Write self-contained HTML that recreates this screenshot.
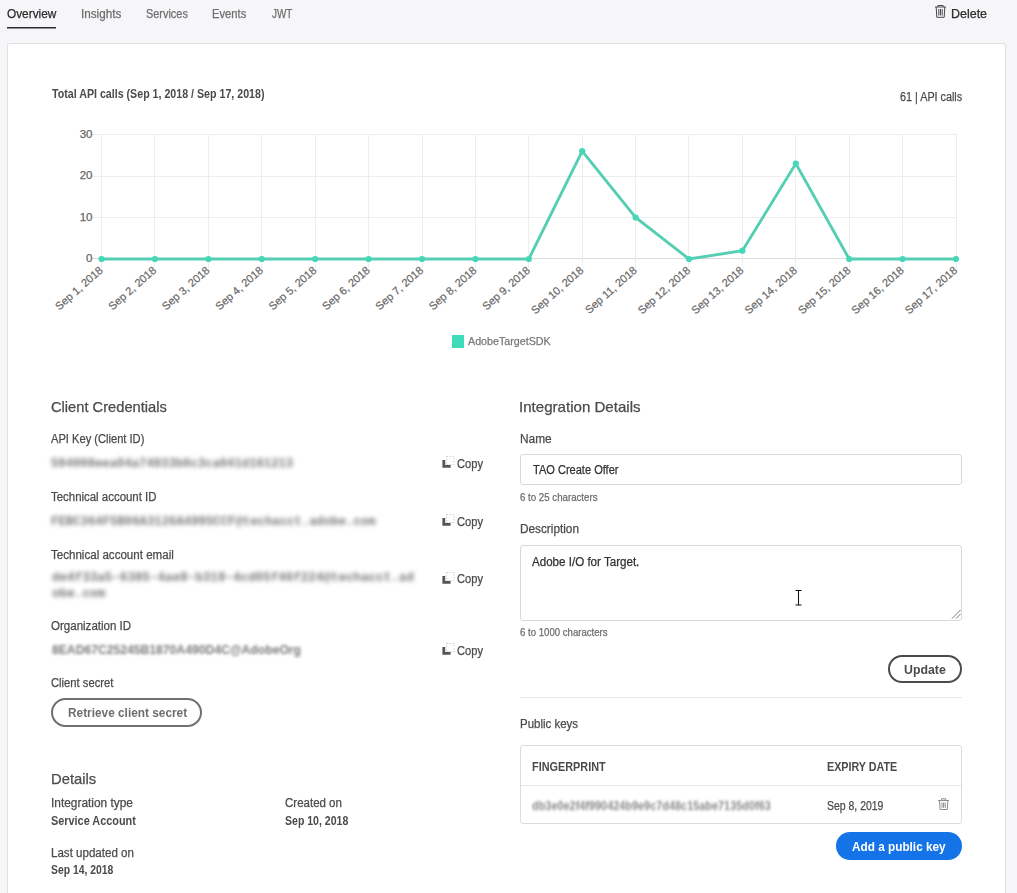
<!DOCTYPE html>
<html><head><meta charset="utf-8"><title>Overview</title>
<style>
html,body{margin:0;padding:0;width:1017px;height:893px;overflow:hidden;background:#f6f5f8;font-family:"Liberation Sans",sans-serif;}
.t{position:absolute;white-space:nowrap;transform-origin:0 0;}
.card{position:absolute;left:7px;top:43px;width:997px;height:900px;background:#fff;border:1px solid #e1e0e3;border-radius:3px;}
</style></head><body>
<svg style="position:absolute;left:0;top:0" width="70" height="40"><rect x="7" y="27" width="49" height="1.5" fill="#2c2c2c"/></svg>
<svg style="position:absolute;left:934px;top:4px" width="14" height="15"><path d="M1 3 H12 M3.9 3 V1.5 H9.1 V3 M2.2 3 L2.8 13.3 H10.2 L10.8 3 M4.8 5 V11.5 M6.5 5 V11.5 M8.2 5 V11.5" stroke="#4a4a4a" stroke-width="1" fill="none"/></svg>
<div class="card"></div>
<svg style="position:absolute;left:0;top:0" width="1017" height="893" font-family="Liberation Sans, sans-serif"><line x1="92" y1="217.5" x2="956.5" y2="217.5" stroke="#ededed" stroke-width="1"/><line x1="92" y1="176.5" x2="956.5" y2="176.5" stroke="#ededed" stroke-width="1"/><line x1="92" y1="134.5" x2="956.5" y2="134.5" stroke="#ededed" stroke-width="1"/><line x1="92" y1="258.5" x2="956.5" y2="258.5" stroke="#dadada" stroke-width="1"/><line x1="101.5" y1="134" x2="101.5" y2="268" stroke="#ededed" stroke-width="1"/><line x1="154.5" y1="134" x2="154.5" y2="268" stroke="#ededed" stroke-width="1"/><line x1="208.5" y1="134" x2="208.5" y2="268" stroke="#ededed" stroke-width="1"/><line x1="261.5" y1="134" x2="261.5" y2="268" stroke="#ededed" stroke-width="1"/><line x1="315.5" y1="134" x2="315.5" y2="268" stroke="#ededed" stroke-width="1"/><line x1="368.5" y1="134" x2="368.5" y2="268" stroke="#ededed" stroke-width="1"/><line x1="422.5" y1="134" x2="422.5" y2="268" stroke="#ededed" stroke-width="1"/><line x1="475.5" y1="134" x2="475.5" y2="268" stroke="#ededed" stroke-width="1"/><line x1="528.5" y1="134" x2="528.5" y2="268" stroke="#ededed" stroke-width="1"/><line x1="582.5" y1="134" x2="582.5" y2="268" stroke="#ededed" stroke-width="1"/><line x1="635.5" y1="134" x2="635.5" y2="268" stroke="#ededed" stroke-width="1"/><line x1="688.5" y1="134" x2="688.5" y2="268" stroke="#ededed" stroke-width="1"/><line x1="742.5" y1="134" x2="742.5" y2="268" stroke="#ededed" stroke-width="1"/><line x1="795.5" y1="134" x2="795.5" y2="268" stroke="#ededed" stroke-width="1"/><line x1="849.5" y1="134" x2="849.5" y2="268" stroke="#ededed" stroke-width="1"/><line x1="902.5" y1="134" x2="902.5" y2="268" stroke="#ededed" stroke-width="1"/><line x1="956.5" y1="134" x2="956.5" y2="268" stroke="#ededed" stroke-width="1"/><text x="92.5" y="262.3" text-anchor="end" font-size="11.5" fill="#666" stroke="#666" stroke-width="0.25">0</text><text x="92.5" y="220.8" text-anchor="end" font-size="11.5" fill="#666" stroke="#666" stroke-width="0.25">10</text><text x="92.5" y="179.4" text-anchor="end" font-size="11.5" fill="#666" stroke="#666" stroke-width="0.25">20</text><text x="92.5" y="137.9" text-anchor="end" font-size="11.5" fill="#666" stroke="#666" stroke-width="0.25">30</text><polyline points="101.6,259.0 155.0,259.0 208.4,259.0 261.8,259.0 315.2,259.0 368.6,259.0 422.0,259.0 475.4,259.0 528.8,259.0 582.2,151.2 635.6,217.5 689.0,259.0 742.4,250.7 795.8,163.6 849.2,259.0 902.6,259.0 956.0,259.0" fill="none" stroke="#56ceb3" stroke-width="2.9" stroke-linejoin="miter"/><circle cx="101.6" cy="259.0" r="3.1" fill="#45d8b8"/><circle cx="155.0" cy="259.0" r="3.1" fill="#45d8b8"/><circle cx="208.4" cy="259.0" r="3.1" fill="#45d8b8"/><circle cx="261.8" cy="259.0" r="3.1" fill="#45d8b8"/><circle cx="315.2" cy="259.0" r="3.1" fill="#45d8b8"/><circle cx="368.6" cy="259.0" r="3.1" fill="#45d8b8"/><circle cx="422.0" cy="259.0" r="3.1" fill="#45d8b8"/><circle cx="475.4" cy="259.0" r="3.1" fill="#45d8b8"/><circle cx="528.8" cy="259.0" r="3.1" fill="#45d8b8"/><circle cx="582.2" cy="151.2" r="3.1" fill="#45d8b8"/><circle cx="635.6" cy="217.5" r="3.1" fill="#45d8b8"/><circle cx="689.0" cy="259.0" r="3.1" fill="#45d8b8"/><circle cx="742.4" cy="250.7" r="3.1" fill="#45d8b8"/><circle cx="795.8" cy="163.6" r="3.1" fill="#45d8b8"/><circle cx="849.2" cy="259.0" r="3.1" fill="#45d8b8"/><circle cx="902.6" cy="259.0" r="3.1" fill="#45d8b8"/><circle cx="956.0" cy="259.0" r="3.1" fill="#45d8b8"/><text transform="translate(101.1,268.5) rotate(-41.5)" text-anchor="end" font-size="11" fill="#666" stroke="#666" stroke-width="0.2" dy="3.8">Sep 1, 2018</text><text transform="translate(154.5,268.5) rotate(-41.5)" text-anchor="end" font-size="11" fill="#666" stroke="#666" stroke-width="0.2" dy="3.8">Sep 2, 2018</text><text transform="translate(207.9,268.5) rotate(-41.5)" text-anchor="end" font-size="11" fill="#666" stroke="#666" stroke-width="0.2" dy="3.8">Sep 3, 2018</text><text transform="translate(261.3,268.5) rotate(-41.5)" text-anchor="end" font-size="11" fill="#666" stroke="#666" stroke-width="0.2" dy="3.8">Sep 4, 2018</text><text transform="translate(314.7,268.5) rotate(-41.5)" text-anchor="end" font-size="11" fill="#666" stroke="#666" stroke-width="0.2" dy="3.8">Sep 5, 2018</text><text transform="translate(368.1,268.5) rotate(-41.5)" text-anchor="end" font-size="11" fill="#666" stroke="#666" stroke-width="0.2" dy="3.8">Sep 6, 2018</text><text transform="translate(421.5,268.5) rotate(-41.5)" text-anchor="end" font-size="11" fill="#666" stroke="#666" stroke-width="0.2" dy="3.8">Sep 7, 2018</text><text transform="translate(474.9,268.5) rotate(-41.5)" text-anchor="end" font-size="11" fill="#666" stroke="#666" stroke-width="0.2" dy="3.8">Sep 8, 2018</text><text transform="translate(528.3,268.5) rotate(-41.5)" text-anchor="end" font-size="11" fill="#666" stroke="#666" stroke-width="0.2" dy="3.8">Sep 9, 2018</text><text transform="translate(581.7,268.5) rotate(-41.5)" text-anchor="end" font-size="11" fill="#666" stroke="#666" stroke-width="0.2" dy="3.8">Sep 10, 2018</text><text transform="translate(635.1,268.5) rotate(-41.5)" text-anchor="end" font-size="11" fill="#666" stroke="#666" stroke-width="0.2" dy="3.8">Sep 11, 2018</text><text transform="translate(688.5,268.5) rotate(-41.5)" text-anchor="end" font-size="11" fill="#666" stroke="#666" stroke-width="0.2" dy="3.8">Sep 12, 2018</text><text transform="translate(741.9,268.5) rotate(-41.5)" text-anchor="end" font-size="11" fill="#666" stroke="#666" stroke-width="0.2" dy="3.8">Sep 13, 2018</text><text transform="translate(795.3,268.5) rotate(-41.5)" text-anchor="end" font-size="11" fill="#666" stroke="#666" stroke-width="0.2" dy="3.8">Sep 14, 2018</text><text transform="translate(848.7,268.5) rotate(-41.5)" text-anchor="end" font-size="11" fill="#666" stroke="#666" stroke-width="0.2" dy="3.8">Sep 15, 2018</text><text transform="translate(902.1,268.5) rotate(-41.5)" text-anchor="end" font-size="11" fill="#666" stroke="#666" stroke-width="0.2" dy="3.8">Sep 16, 2018</text><text transform="translate(955.5,268.5) rotate(-41.5)" text-anchor="end" font-size="11" fill="#666" stroke="#666" stroke-width="0.2" dy="3.8">Sep 17, 2018</text><rect x="452" y="335" width="12" height="13" fill="#3ddbb7"/></svg>
<div class="t" style="left:6.71px;top:8.30px;font-size:12px;line-height:12px;font-family:'Liberation Sans', sans-serif;font-weight:400;color:#2c2c2c;transform:scaleX(0.9858);-webkit-text-stroke:0.25px currentColor;">Overview</div>
<div class="t" style="left:80.53px;top:8.30px;font-size:12px;line-height:12px;font-family:'Liberation Sans', sans-serif;font-weight:400;color:#6e6e6e;transform:scaleX(0.9749);-webkit-text-stroke:0.25px currentColor;">Insights</div>
<div class="t" style="left:145.55px;top:8.30px;font-size:12px;line-height:12px;font-family:'Liberation Sans', sans-serif;font-weight:400;color:#6e6e6e;transform:scaleX(0.9091);-webkit-text-stroke:0.25px currentColor;">Services</div>
<div class="t" style="left:212.07px;top:8.30px;font-size:12px;line-height:12px;font-family:'Liberation Sans', sans-serif;font-weight:400;color:#6e6e6e;transform:scaleX(0.9348);-webkit-text-stroke:0.25px currentColor;">Events</div>
<div class="t" style="left:271.83px;top:8.30px;font-size:12px;line-height:12px;font-family:'Liberation Sans', sans-serif;font-weight:400;color:#6e6e6e;transform:scaleX(0.8264);-webkit-text-stroke:0.25px currentColor;">JWT</div>
<div class="t" style="left:950.50px;top:7.97px;font-size:12.5px;line-height:12.5px;font-family:'Liberation Sans', sans-serif;font-weight:400;color:#2c2c2c;transform:scaleX(0.9971);-webkit-text-stroke:0.25px currentColor;">Delete</div>
<div class="t" style="left:51.72px;top:87.15px;font-size:13px;line-height:13px;font-family:'Liberation Sans', sans-serif;font-weight:700;color:#4b4b4b;transform:scaleX(0.8191);">Total API calls (Sep 1, 2018 / Sep 17, 2018)</div>
<div class="t" style="left:900.36px;top:91.40px;font-size:12px;line-height:12px;font-family:'Liberation Sans', sans-serif;font-weight:400;color:#4b4b4b;transform:scaleX(0.8988);-webkit-text-stroke:0.25px currentColor;">61 | API calls</div>
<div class="t" style="left:468.40px;top:335.63px;font-size:11.5px;line-height:11.5px;font-family:'Liberation Sans', sans-serif;font-weight:400;color:#777;transform:scaleX(0.9312);-webkit-text-stroke:0.25px currentColor;">AdobeTargetSDK</div>
<div class="t" style="left:50.59px;top:399.98px;font-size:14.5px;line-height:14.5px;font-family:'Liberation Sans', sans-serif;font-weight:400;color:#4b4b4b;transform:scaleX(1.0124);-webkit-text-stroke:0.25px currentColor;">Client Credentials</div>
<div class="t" style="left:519.35px;top:399.98px;font-size:14.5px;line-height:14.5px;font-family:'Liberation Sans', sans-serif;font-weight:400;color:#4b4b4b;transform:scaleX(1.0400);-webkit-text-stroke:0.25px currentColor;">Integration Details</div>
<div class="t" style="left:51.22px;top:771.45px;font-size:15px;line-height:15px;font-family:'Liberation Sans', sans-serif;font-weight:400;color:#4b4b4b;transform:scaleX(0.9864);-webkit-text-stroke:0.25px currentColor;">Details</div>
<div class="t" style="left:51.30px;top:433.10px;font-size:12px;line-height:12px;font-family:'Liberation Sans', sans-serif;font-weight:400;color:#4b4b4b;transform:scaleX(0.9270);-webkit-text-stroke:0.25px currentColor;">API Key (Client ID)</div>
<div class="t" style="left:51.01px;top:491.40px;font-size:12px;line-height:12px;font-family:'Liberation Sans', sans-serif;font-weight:400;color:#4b4b4b;transform:scaleX(0.9527);-webkit-text-stroke:0.25px currentColor;">Technical account ID</div>
<div class="t" style="left:51.01px;top:549.20px;font-size:12px;line-height:12px;font-family:'Liberation Sans', sans-serif;font-weight:400;color:#4b4b4b;transform:scaleX(0.9636);-webkit-text-stroke:0.25px currentColor;">Technical account email</div>
<div class="t" style="left:51.32px;top:620.40px;font-size:12px;line-height:12px;font-family:'Liberation Sans', sans-serif;font-weight:400;color:#4b4b4b;transform:scaleX(0.9611);-webkit-text-stroke:0.25px currentColor;">Organization ID</div>
<div class="t" style="left:51.14px;top:677.20px;font-size:12px;line-height:12px;font-family:'Liberation Sans', sans-serif;font-weight:400;color:#4b4b4b;transform:scaleX(0.9349);-webkit-text-stroke:0.25px currentColor;">Client secret</div>
<div class="t" style="left:519.71px;top:433.10px;font-size:12px;line-height:12px;font-family:'Liberation Sans', sans-serif;font-weight:400;color:#4b4b4b;transform:scaleX(0.9902);-webkit-text-stroke:0.25px currentColor;">Name</div>
<div class="t" style="left:519.52px;top:523.30px;font-size:12px;line-height:12px;font-family:'Liberation Sans', sans-serif;font-weight:400;color:#4b4b4b;transform:scaleX(0.9828);-webkit-text-stroke:0.25px currentColor;">Description</div>
<div class="t" style="left:519.64px;top:717.60px;font-size:12px;line-height:12px;font-family:'Liberation Sans', sans-serif;font-weight:400;color:#4b4b4b;transform:scaleX(0.9562);-webkit-text-stroke:0.25px currentColor;">Public keys</div>
<div class="t" style="left:50.51px;top:797.10px;font-size:12px;line-height:12px;font-family:'Liberation Sans', sans-serif;font-weight:400;color:#4b4b4b;transform:scaleX(0.9901);-webkit-text-stroke:0.25px currentColor;">Integration type</div>
<div class="t" style="left:284.82px;top:797.10px;font-size:12px;line-height:12px;font-family:'Liberation Sans', sans-serif;font-weight:400;color:#4b4b4b;transform:scaleX(0.9586);-webkit-text-stroke:0.25px currentColor;">Created on</div>
<div class="t" style="left:50.64px;top:847.40px;font-size:12px;line-height:12px;font-family:'Liberation Sans', sans-serif;font-weight:400;color:#4b4b4b;transform:scaleX(0.9632);-webkit-text-stroke:0.25px currentColor;">Last updated on</div>
<div class="t" style="left:51.24px;top:814.90px;font-size:12px;line-height:12px;font-family:'Liberation Sans', sans-serif;font-weight:700;color:#4b4b4b;transform:scaleX(0.9066);">Service Account</div>
<div class="t" style="left:285.05px;top:814.90px;font-size:12px;line-height:12px;font-family:'Liberation Sans', sans-serif;font-weight:700;color:#4b4b4b;transform:scaleX(0.8780);">Sep 10, 2018</div>
<div class="t" style="left:51.25px;top:864.40px;font-size:12px;line-height:12px;font-family:'Liberation Sans', sans-serif;font-weight:700;color:#4b4b4b;transform:scaleX(0.8654);">Sep 14, 2018</div>
<div class="t" style="left:457.34px;top:457.60px;font-size:12px;line-height:12px;font-family:'Liberation Sans', sans-serif;font-weight:400;color:#4b4b4b;transform:scaleX(0.9270);-webkit-text-stroke:0.25px currentColor;">Copy</div>
<svg style="position:absolute;left:440px;top:454.0px" width="18" height="16"><rect x="6.5" y="2.5" width="7.5" height="8" fill="none" stroke="#cfcfcf" stroke-width="1" stroke-dasharray="1.5 1.5"/><path d="M2.4 6 H5.2 V11 H10.6 V13.8 H2.4 Z" fill="#555"/></svg>
<div class="t" style="left:457.34px;top:515.60px;font-size:12px;line-height:12px;font-family:'Liberation Sans', sans-serif;font-weight:400;color:#4b4b4b;transform:scaleX(0.9270);-webkit-text-stroke:0.25px currentColor;">Copy</div>
<svg style="position:absolute;left:440px;top:512.0px" width="18" height="16"><rect x="6.5" y="2.5" width="7.5" height="8" fill="none" stroke="#cfcfcf" stroke-width="1" stroke-dasharray="1.5 1.5"/><path d="M2.4 6 H5.2 V11 H10.6 V13.8 H2.4 Z" fill="#555"/></svg>
<div class="t" style="left:457.34px;top:573.30px;font-size:12px;line-height:12px;font-family:'Liberation Sans', sans-serif;font-weight:400;color:#4b4b4b;transform:scaleX(0.9270);-webkit-text-stroke:0.25px currentColor;">Copy</div>
<svg style="position:absolute;left:440px;top:569.7px" width="18" height="16"><rect x="6.5" y="2.5" width="7.5" height="8" fill="none" stroke="#cfcfcf" stroke-width="1" stroke-dasharray="1.5 1.5"/><path d="M2.4 6 H5.2 V11 H10.6 V13.8 H2.4 Z" fill="#555"/></svg>
<div class="t" style="left:457.34px;top:644.60px;font-size:12px;line-height:12px;font-family:'Liberation Sans', sans-serif;font-weight:400;color:#4b4b4b;transform:scaleX(0.9270);-webkit-text-stroke:0.25px currentColor;">Copy</div>
<svg style="position:absolute;left:440px;top:641.0px" width="18" height="16"><rect x="6.5" y="2.5" width="7.5" height="8" fill="none" stroke="#cfcfcf" stroke-width="1" stroke-dasharray="1.5 1.5"/><path d="M2.4 6 H5.2 V11 H10.6 V13.8 H2.4 Z" fill="#555"/></svg>
<div class="t" style="left:520.22px;top:493.00px;font-size:10px;line-height:10px;font-family:'Liberation Sans', sans-serif;font-weight:400;color:#6e6e6e;transform:scaleX(0.9684);-webkit-text-stroke:0.25px currentColor;">6 to 25 characters</div>
<div class="t" style="left:520.02px;top:627.80px;font-size:10px;line-height:10px;font-family:'Liberation Sans', sans-serif;font-weight:400;color:#6e6e6e;transform:scaleX(0.9612);-webkit-text-stroke:0.25px currentColor;">6 to 1000 characters</div>
<div style="position:absolute;left:520px;top:454px;width:440px;height:29px;border:1px solid #d8d8d8;border-radius:3px;background:#fff"></div>
<div class="t" style="left:532.52px;top:463.80px;font-size:12px;line-height:12px;font-family:'Liberation Sans', sans-serif;font-weight:400;color:#323232;transform:scaleX(0.9199);-webkit-text-stroke:0.25px currentColor;">TAO Create Offer</div>
<div style="position:absolute;left:520px;top:545px;width:440px;height:74px;border:1px solid #d8d8d8;border-radius:3px;background:#fff"></div>
<div class="t" style="left:532.20px;top:555.60px;font-size:12px;line-height:12px;font-family:'Liberation Sans', sans-serif;font-weight:400;color:#323232;transform:scaleX(0.9655);-webkit-text-stroke:0.25px currentColor;">Adobe I/O for Target.</div>
<svg style="position:absolute;left:950px;top:608px" width="12" height="12"><path d="M10.5 2 L2 10.5 M10.5 6 L6 10.5" stroke="#777" stroke-width="1"/></svg>
<svg style="position:absolute;left:794px;top:589px" width="10" height="18"><path d="M1.5 1.5 H7.5 M4.5 1.5 V16 M1.5 16 H7.5" stroke="#111" stroke-width="1.05" fill="none"/></svg>
<div style="position:absolute;left:51px;top:698px;width:147px;height:25px;border:2px solid #707070;border-radius:15px"></div>
<div class="t" style="left:67.54px;top:706.88px;font-size:12.5px;line-height:12.5px;font-family:'Liberation Sans', sans-serif;font-weight:700;color:#6e6e6e;transform:scaleX(0.9471);">Retrieve client secret</div>
<div style="position:absolute;left:888px;top:655px;width:70px;height:24px;border:2px solid #4b4b4b;border-radius:15px"></div>
<div class="t" style="left:904.31px;top:663.98px;font-size:12.5px;line-height:12.5px;font-family:'Liberation Sans', sans-serif;font-weight:700;color:#4b4b4b;transform:scaleX(0.9854);">Update</div>
<div style="position:absolute;left:836px;top:832px;width:126px;height:28px;background:#1473e6;border-radius:15px"></div>
<div class="t" style="left:852.42px;top:840.58px;font-size:12.5px;line-height:12.5px;font-family:'Liberation Sans', sans-serif;font-weight:700;color:#ffffff;transform:scaleX(0.9424);">Add a public key</div>
<div style="position:absolute;left:520px;top:697px;width:442px;height:1px;background:#e6e6e6"></div>
<div style="position:absolute;left:520px;top:745px;width:440px;height:77px;border:1px solid #dcdcdc;border-radius:3px"></div>
<div style="position:absolute;left:521px;top:785px;width:440px;height:1px;background:#e6e6e6"></div>
<div class="t" style="left:532.08px;top:761.40px;font-size:12px;line-height:12px;font-family:'Liberation Sans', sans-serif;font-weight:700;color:#4b4b4b;transform:scaleX(0.9055);">FINGERPRINT</div>
<div class="t" style="left:826.68px;top:761.40px;font-size:12px;line-height:12px;font-family:'Liberation Sans', sans-serif;font-weight:700;color:#4b4b4b;transform:scaleX(0.8951);">EXPIRY DATE</div>
<div class="t" style="left:826.96px;top:800.40px;font-size:12px;line-height:12px;font-family:'Liberation Sans', sans-serif;font-weight:400;color:#4b4b4b;transform:scaleX(0.8711);-webkit-text-stroke:0.25px currentColor;">Sep 8, 2019</div>
<div class="t" style="left:51.39px;top:457.50px;font-size:12px;line-height:12px;font-family:'Liberation Mono', monospace;font-weight:700;color:#777;transform:scaleX(1.0190);filter:blur(2px);">594008eea04a74933b0c3ca041d161213</div>
<div class="t" style="left:51.48px;top:516.30px;font-size:12px;line-height:12px;font-family:'Liberation Mono', monospace;font-weight:700;color:#777;transform:scaleX(1.0244);filter:blur(2px);">FEBC364F5B06A3126A4995CCF@techacct.adobe.com</div>
<div class="t" style="left:51.87px;top:572.30px;font-size:12px;line-height:12px;font-family:'Liberation Mono', monospace;font-weight:700;color:#777;transform:scaleX(1.0471);filter:blur(2px);">de4f33a5-6385-4ae9-b319-4cd05f46f224@techacct.ad</div>
<div class="t" style="left:51.97px;top:588.30px;font-size:12px;line-height:12px;font-family:'Liberation Mono', monospace;font-weight:700;color:#777;transform:scaleX(1.0566);filter:blur(2px);">obe.com</div>
<div class="t" style="left:51.51px;top:644.38px;font-size:12.5px;line-height:12.5px;font-family:'Liberation Sans', sans-serif;font-weight:700;color:#7a7a7a;transform:scaleX(0.9725);filter:blur(1.5px);">8EAD67C25245B1870A490D4C@AdobeOrg</div>
<div class="t" style="left:531.56px;top:799.88px;font-size:12.5px;line-height:12.5px;font-family:'Liberation Sans', sans-serif;font-weight:700;color:#8a8a8a;transform:scaleX(0.8721);filter:blur(1.4px);">db3e0e2f4f990424b9e9c7d48c15abe7135d0f63</div>
<svg style="position:absolute;left:937px;top:797px" width="14" height="15"><path d="M1.1 3.5 H11.9 M4.5 3.5 V1.8 H8.7 V3.5 M2.5 3.5 L3.1 12.5 H10.3 L10.9 3.5 M5 5.5 V10.8 M6.6 5.5 V10.8 M8.2 5.5 V10.8" stroke="#8c8c8c" stroke-width="1" fill="none"/></svg>
</body></html>
